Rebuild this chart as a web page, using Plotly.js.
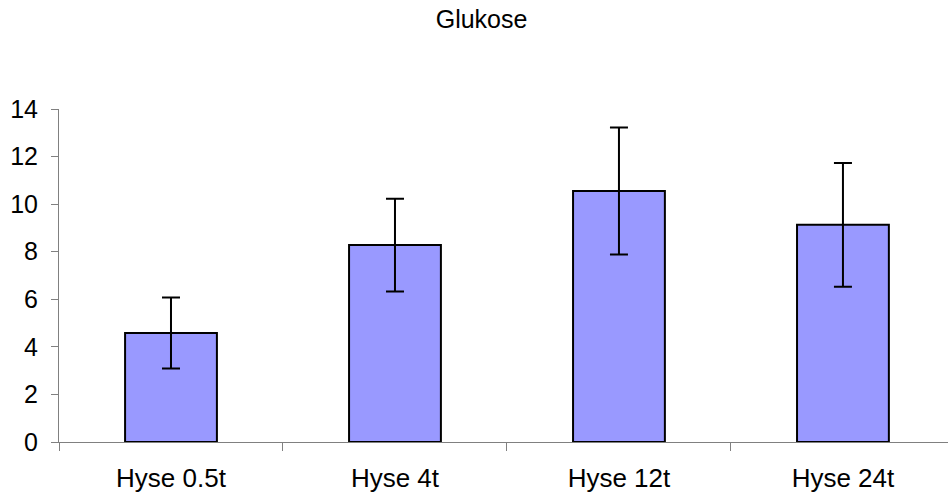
<!DOCTYPE html>
<html>
<head>
<meta charset="utf-8">
<script src="https://cdn.plot.ly/plotly-3.0.1.min.js"></script>
<style>html,body{margin:0;padding:0;background:#fff;}#chart{width:948px;height:495px;}</style>
</head>
<body>
<div id="chart"></div>
<script>
const categories = ["Hyse 0.5t", "Hyse 4t", "Hyse 12t", "Hyse 24t"];
const values = [4.58, 8.28, 10.55, 9.13];
const errors = [1.49, 1.95, 2.67, 2.6];
const yTicks = [0, 2, 4, 6, 8, 10, 12, 14];

const font = "Liberation Sans, Arial, sans-serif";

const trace = {
  type: "bar",
  x: categories,
  y: values,
  width: 0.41,
  marker: { color: "#9999FF", line: { color: "#000000", width: 2 } },
  error_y: { type: "data", array: errors, symmetric: true, visible: true, color: "#000000", thickness: 2, width: 9 },
  hoverinfo: "none"
};

const layout = {
  width: 948, height: 495,
  margin: { l: 59, r: 0, t: 109, b: 53, pad: 0 },
  paper_bgcolor: "#ffffff", plot_bgcolor: "#ffffff",
  showlegend: false,
  title: { text: "Glukose", font: { family: font, size: 25, color: "#000000" }, x: 0.508, xref: "container", xanchor: "center", y: 0.962, yref: "container", yanchor: "middle" },
  xaxis: {
    type: "category",
    range: [-0.5, 3.469],
    showline: true, linecolor: "#808080", linewidth: 1,
    ticks: "outside", tickson: "boundaries", ticklen: 8, tickcolor: "#808080", tickwidth: 1,
    showgrid: false, zeroline: false,
    tickfont: { family: font, size: 26, color: "#000000" },
    ticklabelstandoff: 13
  },
  yaxis: {
    range: [0, 14],
    tickvals: yTicks,
    ticktext: yTicks.map(String),
    showline: true, linecolor: "#808080", linewidth: 1,
    ticks: "outside", ticklen: 7, tickcolor: "#808080", tickwidth: 1,
    showgrid: false, zeroline: false,
    tickfont: { family: font, size: 25, color: "#000000" },
    ticklabelstandoff: 8
  }
};

Plotly.newPlot("chart", [trace], layout, { staticPlot: true, displayModeBar: false });
</script>
</body>
</html>
